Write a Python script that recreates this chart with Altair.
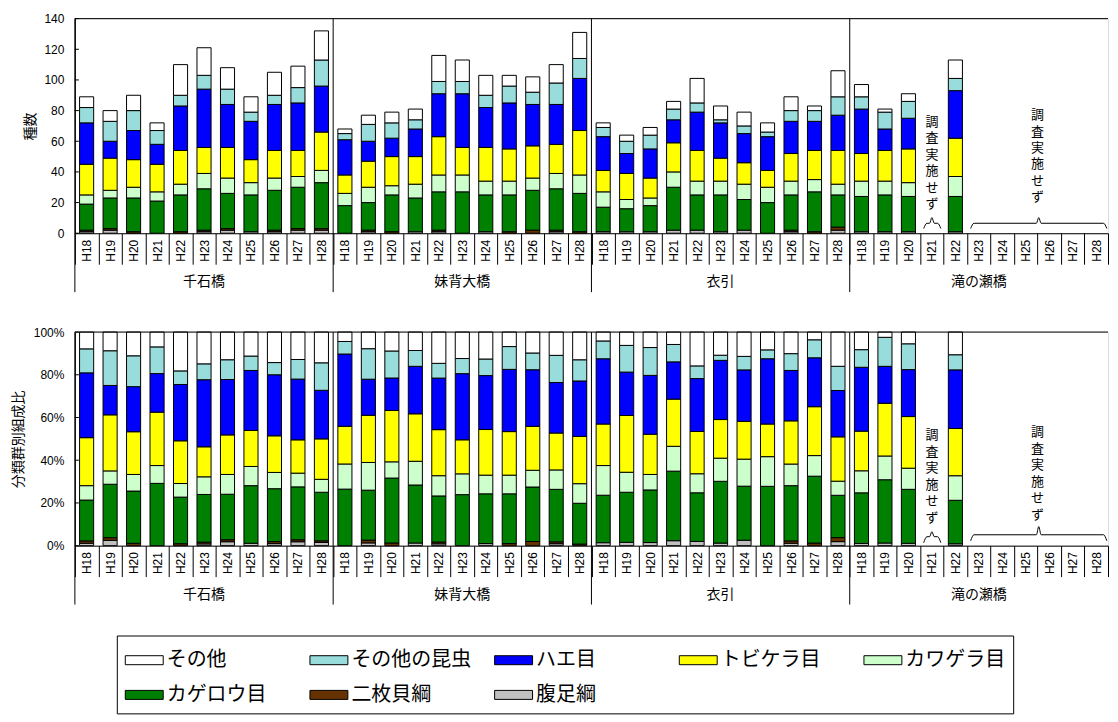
import altair as alt
import pandas as pd

# ---------------- data ----------------
sites = ["千石橋", "妹背大橋", "衣引", "滝の瀬橋"]
years = ["H18", "H19", "H20", "H21", "H22", "H23", "H24", "H25", "H26", "H27", "H28"]
legend_order = ["その他", "その他の昆虫", "ハエ目", "トビケラ目", "カワゲラ目", "カゲロウ目", "二枚貝綱", "腹足綱"]
colors = ["#FFFFFF", "#99DCDC", "#0000FF", "#FFFF00", "#CCFFCC", "#008000", "#663300", "#C0C0C0"]

N = None  # 調査実施せず
# 44 slots: 千石橋 H18-H28, 妹背大橋 H18-H28, 衣引 H18-H28, 滝の瀬橋 H18-H28
fukusoku = [1, 2, 0, 0, 0, 1, 2, 1, 1, 2, 2,
            0, 1, 0, 1, 1, 0, 1, 0, 0, 1, 0,
            1, 1, 1, 2, 2, 1, 2, 0, 1, 0, 2,
            1, 1, 1, N, 1, N, N, N, N, N, N]
nimaigai = [1, 1, 1, 0, 1, 1, 1, 0, 1, 1, 1,
            0, 1, 1, 0, 1, 0, 0, 1, 2, 1, 1,
            0, 0, 0, 0, 0, 0, 0, 0, 1, 1, 2,
            0, 0, 0, N, 0, N, N, N, N, N, N]
kagerou = [17, 20, 22, 21, 24, 27, 23, 24, 26, 27, 30,
           18, 18, 24, 22, 25, 27, 24, 24, 26, 27, 25,
           16, 15, 17, 28, 23, 24, 20, 20, 23, 26, 21,
           23, 24, 23, N, 23, N, N, N, N, N, N]
kawagera = [6, 5, 7, 6, 7, 10, 10, 8, 8, 7, 8,
            8, 10, 6, 9, 11, 11, 9, 9, 8, 10, 12,
            10, 6, 5, 10, 9, 9, 10, 10, 9, 8, 7,
            10, 9, 9, N, 13, N, N, N, N, N, N]
tobikera = [20, 21, 18, 18, 22, 17, 20, 15, 18, 17, 25,
            12, 17, 19, 18, 25, 18, 22, 21, 21, 19, 29,
            14, 17, 13, 19, 20, 15, 14, 11, 18, 19, 22,
            18, 20, 22, N, 25, N, N, N, N, N, N]
hae = [27, 11, 19, 13, 29, 38, 28, 25, 30, 31, 30,
       23, 13, 12, 18, 28, 35, 26, 30, 27, 26, 34,
       22, 13, 19, 15, 25, 23, 19, 22, 21, 19, 23,
       29, 14, 20, N, 31, N, N, N, N, N, N]
sonota_konchu = [10, 13, 13, 9, 7, 9, 10, 6, 6, 10, 17,
                 4, 11, 10, 6, 8, 8, 8, 11, 8, 14, 13,
                 6, 8, 9, 7, 6, 2, 5, 3, 7, 7, 12,
                 8, 11, 11, N, 8, N, N, N, N, N, N]
sonota = [7, 7, 10, 5, 20, 18, 14, 10, 15, 14, 19,
          3, 6, 7, 7, 17, 14, 13, 7, 10, 12, 17,
          3, 4, 5, 5, 16, 9, 9, 6, 9, 3, 17,
          8, 2, 5, N, 12, N, N, N, N, N, N]

series = {"腹足綱": fukusoku, "二枚貝綱": nimaigai, "カゲロウ目": kagerou, "カワゲラ目": kawagera,
          "トビケラ目": tobikera, "ハエ目": hae, "その他の昆虫": sonota_konchu, "その他": sonota}

no_survey_label = "調\n査\n実\n施\nせ\nず"

slots = [f"{s}_{y}" for s in sites for y in years]
stack_order = legend_order[::-1]
rows = []
for i, slot in enumerate(slots):
    for k, g in enumerate(stack_order):
        v = series[g][i]
        if v:
            rows.append({"slot": slot, "group": g, "ord": k, "value": v})
df = pd.DataFrame(rows)

# ---------------- layout ----------------
FONT_JP = "Noto Sans CJK JP"
FONT_NUM = "Liberation Sans"
NSLOT = len(slots)
W = 1035
H1, H2 = 215, 214

sep_df = pd.DataFrame({"pos": [0, 11, 22, 33]})
site_df = pd.DataFrame({"pos": [5.5, 16.5, 27.5, 38.5], "site": sites})


def brace_df(specs):
    out = []
    for bid, (a, c, b, tip, mid, high) in enumerate(specs):
        e1, e2 = 0.14, 0.1
        xs = [a, a + e1, c - e2, c, c + e2, b - e1, b]
        ys = [tip, mid, mid, high, mid, mid, tip]
        for x, y in zip(xs, ys):
            out.append({"bid": bid, "pos": x, "by": y})
    return pd.DataFrame(out)


legend = alt.Legend(
    title=" ", titleFontSize=6, titlePadding=0,
    orient="none", legendX=42, legendY=618, columns=5, direction="horizontal",
    symbolType="M-1,-0.45H2.8V0.45H-1Z", symbolSize=400, symbolStrokeColor="black",
    symbolStrokeWidth=1, symbolOpacity=1, labelFont=FONT_JP, labelFontSize=20,
    labelColor="black", labelOffset=21, labelLimit=300, strokeColor="black", padding=8,
    rowPadding=14, columnPadding=21, gridAlign="all",
)


def panel(H, normalize, ytitle, ydomain, yvalues, yformat, title_pad,
          text_tops, braces):
    xq = alt.Scale(domain=[0, NSLOT], nice=False, zero=False)
    yq = alt.Scale(domain=ydomain, nice=False, zero=False)
    bars = alt.Chart(df).mark_bar(
        width=alt.RelativeBandSize(0.6), stroke="black", strokeWidth=1
    ).encode(
        x=alt.X("slot:N", sort=slots,
                scale=alt.Scale(domain=slots, paddingInner=0, paddingOuter=0),
                axis=alt.Axis(title=None, labelExpr="split(datum.label, '_')[1]",
                              labelAngle=270, labelFont=FONT_NUM, labelFontSize=12,
                              labelColor="black", labelPadding=-25, tickBand="extent",
                              tickSize=31, tickColor="black", tickWidth=1,
                              domainColor="black", domainWidth=1)),
        y=alt.Y("value:Q", stack="normalize" if normalize else "zero",
                scale=alt.Scale(domain=ydomain, nice=False),
                axis=alt.Axis(title=ytitle, values=yvalues, format=yformat, ticks=False,
                              grid=False, labelPadding=11, labelFont=FONT_NUM,
                              labelFontSize=12, labelColor="black", domainColor="black",
                              titleFont=FONT_JP, titleFontSize=14, titleFontWeight="normal",
                              titleColor="black", titlePadding=title_pad)),
        color=alt.Color("group:N", scale=alt.Scale(domain=legend_order, range=colors),
                        legend=legend),
        order=alt.Order("ord:Q", sort="ascending"),
    )
    yticks = alt.Chart(pd.DataFrame({"t": yvalues})).mark_rule(color="black").encode(
        y=alt.Y("t:Q", scale=yq, axis=None), x=alt.value(0), x2=alt.value(4))
    topline = alt.Chart(pd.DataFrame({"a": [0]})).mark_rule(color="black").encode(
        x=alt.value(0), x2=alt.value(W), y=alt.value(0))
    seps = alt.Chart(sep_df).mark_rule(color="black").encode(
        x=alt.X("pos:Q", scale=xq, axis=None), y=alt.value(0), y2=alt.value(H + 59))
    site_labels = alt.Chart(site_df).mark_text(
        font=FONT_JP, fontSize=14, baseline="middle", color="black").encode(
        x=alt.X("pos:Q", scale=xq, axis=None), y=alt.value(H + 49), text="site:N")
    ns_df = pd.DataFrame({"pos": [36.5, 41.0], "ty": text_tops,
                          "label": [no_survey_label, no_survey_label]})
    ns_text = alt.Chart(ns_df).mark_text(
        font=FONT_JP, fontSize=13, baseline="top", align="center", lineBreak="\n",
        lineHeight=16.5, color="black").encode(
        x=alt.X("pos:Q", scale=xq, axis=None), y=alt.Y("ty:Q", scale=yq, axis=None),
        text="label:N")
    br = alt.Chart(brace_df(braces)).mark_line(
        color="black", strokeWidth=1, interpolate="monotone").encode(
        x=alt.X("pos:Q", scale=xq, axis=None), y=alt.Y("by:Q", scale=yq, axis=None),
        detail="bid:N")
    return alt.layer(bars, yticks, topline, seps, site_labels, ns_text, br).resolve_scale(
        x="independent", y="independent").properties(width=W, height=H)


top = panel(H1, False, "種数", [0, 140], [0, 20, 40, 60, 80, 100, 120, 140], "d", 6,
            [76.5, 81.0],
            [(36.15, 36.5, 36.88, 3.1, 6.5, 10.2), (38.15, 41.05, 43.95, 3.1, 6.5, 10.2)])
bottom = panel(H2, True, "分類群別組成比", [0, 1], [0, 0.2, 0.4, 0.6, 0.8, 1.0], ".0%", 8,
               [0.545, 0.559],
               [(36.15, 36.5, 36.88, 0.014, 0.042, 0.065),
                (38.15, 41.05, 43.95, 0.023, 0.051, 0.089)])

chart = alt.vconcat(top, bottom, spacing=99, bounds="flush").resolve_scale(
    color="shared").properties(
    padding={"left": 2, "top": 3, "right": 0, "bottom": 0}
).configure_view(stroke=None).configure(background="white")

chart.save("out.html", embed_options={"renderer": "svg", "actions": False})
